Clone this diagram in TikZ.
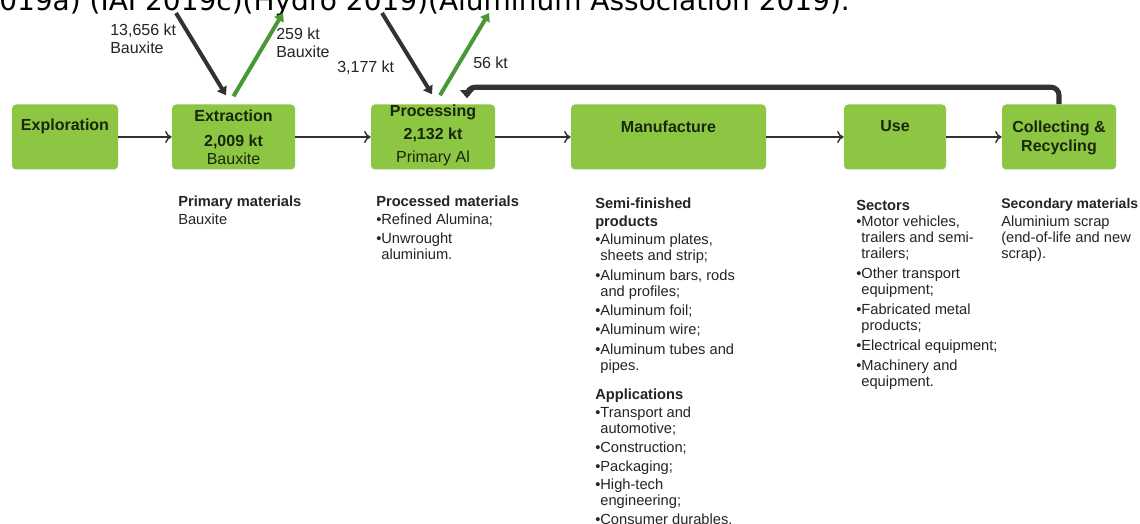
\documentclass[tikz,border=0pt]{standalone}
\usepackage{fontspec}
\setmainfont{Liberation Sans}
\newfontfamily\citefont{DejaVu Sans}
\usepackage{xcolor}
\usetikzlibrary{arrows.meta,calc}

\definecolor{boxgreen}{RGB}{141,198,66}
\definecolor{flowgreen}{RGB}{72,152,56}
\definecolor{flowgray}{RGB}{50,50,50}
\definecolor{boxtext}{RGB}{26,38,12}
\definecolor{bodytext}{RGB}{36,36,36}

\begin{document}
\begin{tikzpicture}[x=0.75pt,y=-0.75pt,
    stage/.style={draw=none,fill=boxgreen,rounded corners=3pt,inner sep=0pt,minimum height=48.75pt},
    stagetext/.style={font=\bfseries\fontsize{12}{14}\selectfont,text=boxtext,align=center,inner sep=0pt},
    flow/.style={draw=flowgray,line width=1.1pt,-{To[length=5pt,width=9pt]}},
    inflow/.style={draw=flowgray,line width=3pt,-{Triangle[length=6pt,width=8pt]}},
    outflow/.style={draw=flowgreen,line width=3pt,-{Triangle[length=6pt,width=8pt]}},
    loop/.style={draw=flowgray,line width=3.8pt,rounded corners=6pt,-{Triangle[length=6pt,width=10pt]}},
    amount/.style={font=\fontsize{12}{13.5}\selectfont,text=bodytext,align=left,inner sep=0pt,anchor=west},
    notes/.style={font=\fontsize{11}{12}\selectfont,text=bodytext,align=left,inner sep=0pt,anchor=north west}]

        % Background
        \useasboundingbox[fill=white] (0,0) rectangle (1140,524);

        % Citation line, cut at the top
        \node[anchor=base west,inner sep=0pt,font=\citefont\fontsize{21}{24}\selectfont] (cite) at (-1,11) {019a) (IAI 2019c)(Hydro 2019)(Aluminum Association 2019).};

        % Stages
        \node[stage,minimum width=79.5pt] (expl) at (65,137) {};
        \node[stage,minimum width=92.25pt] (extr) at (233.5,137) {};
        \node[stage,minimum width=93pt] (proc) at (433,137) {};
        \node[stage,minimum width=146.25pt] (manu) at (668.5,137) {};
        \node[stage,minimum width=76.5pt] (use) at (895,137) {};
        \node[stage,minimum width=85.5pt] (coll) at (1059,137) {};

        % Stages: Labels
        \node[stagetext] (expl-t) at (65,126) {Exploration};
        \node[stagetext] (extr-t) at (233.5,137.5) {Extraction\\[4.5pt]2,009 kt\\\mdseries Bauxite};
        \node[stagetext] (proc-t) at (433,135) {Processing\\[3.25pt]2,132 kt\\[3.25pt]\mdseries Primary Al};
        \node[stagetext] (manu-t) at (668.5,127) {Manufacture};
        \node[stagetext] (use-t) at (895,126) {Use};
        \node[stagetext] (coll-t) at (1059,138) {Collecting \&\\Recycling};

        % Chain
        \foreach \a/\b in {expl/extr,extr/proc,proc/manu,manu/use,use/coll} {
            \draw[flow] (\a) -- (\b);
        }

        % Flows in and out
        \coordinate (ore-in) at (176,13);
        \coordinate (ore-out) at (283,13);
        \coordinate (al-in) at (382,13);
        \coordinate (al-out) at (489,13);
        \draw[inflow] (ore-in) -- ($(extr.north)+(-7.5,-9)$);
        \draw[outflow] ($(extr.north)+(0,-8)$) -- (ore-out);
        \draw[inflow] (al-in) -- ($(proc.north)+(-1,-10)$);
        \draw[outflow] ($(proc.north)+(7,-9)$) -- (al-out);
        \draw[loop] (coll.north) -- ++(0,-17) -| ($(proc.north)+(34,-6)$);

        % Flows: Labels
        \node[amount] (ore-in-t) at (110,39) {13,656 kt\\Bauxite};
        \node[amount] (ore-out-t) at (276,43) {259 kt\\Bauxite};
        \node[amount] (al-in-t) at (337,68) {3,177 kt};
        \node[amount] (al-out-t) at (473,63) {56 kt};

        % Materials and products
        \node[notes] (prim-n) at (178,196) {\textbf{Primary materials}\\[1.5pt]Bauxite};
        \node[notes] (proc-n) at (376,196) {\textbf{Processed materials}\\[1.5pt]•Refined Alumina;\\[2pt]•Unwrought\\\phantom{•}aluminium.};
        \node[notes] (semi-n) at (595,198) {\textbf{Semi-finished}\\[1.5pt]\textbf{products}\\[1.5pt]%
            •Aluminum plates,\\\phantom{•}sheets and strip;\\[2.5pt]%
            •Aluminum bars, rods\\\phantom{•}and profiles;\\[2.5pt]%
            •Aluminum foil;\\[2.5pt]%
            •Aluminum wire;\\[2.5pt]%
            •Aluminum tubes and\\\phantom{•}pipes.};
        \node[notes] (appl-n) at (595,389) {\textbf{Applications}\\[1.5pt]%
            •Transport and\\\phantom{•}automotive;\\[2pt]%
            •Construction;\\[2pt]%
            •Packaging;\\[2pt]%
            •High-tech\\\phantom{•}engineering;\\[2pt]%
            •Consumer durables.};
        \node[notes] (sect-n) at (856,200) {\textbf{Sectors}\\%
            •Motor vehicles,\\\phantom{•}trailers and semi-\\\phantom{•}trailers;\\[3pt]%
            •Other transport\\\phantom{•}equipment;\\[3pt]%
            •Fabricated metal\\\phantom{•}products;\\[3pt]%
            •Electrical equipment;\\[3pt]%
            •Machinery and\\\phantom{•}equipment.};
        \node[notes] (secm-n) at (1001,198) {\textbf{\fontsize{10.5}{12}\selectfont Secondary materials}\\[1.5pt]Aluminium scrap\\(end-of-life and new\\scrap).};

    \end{tikzpicture}
\end{document}
